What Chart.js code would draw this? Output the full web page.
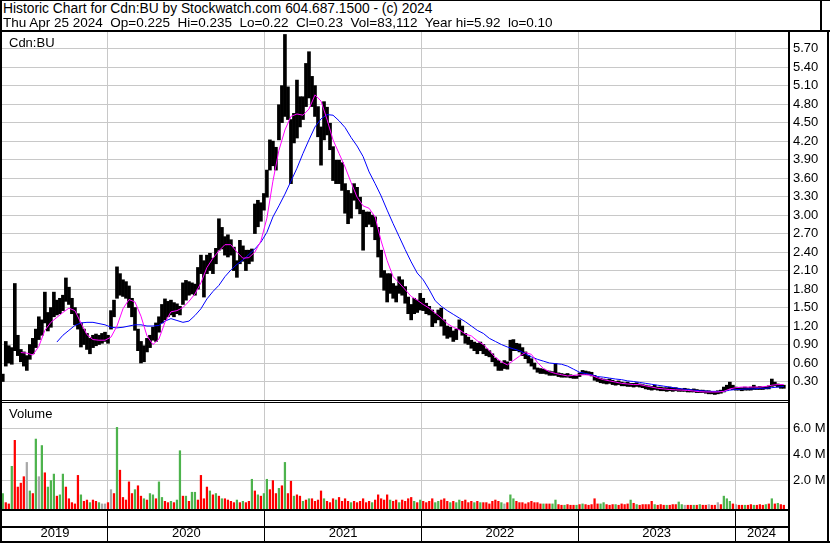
<!DOCTYPE html>
<html><head><meta charset="utf-8">
<script src="https://cdn.jsdelivr.net/npm/chart.js"></script>
<style>
html,body{margin:0;padding:0;background:#fff;}
body{width:830px;height:543px;position:relative;overflow:hidden;font-family:"Liberation Sans",Arial,sans-serif;}
.ln{position:absolute;background:#000;}
.txt{position:absolute;font-size:13px;line-height:13px;color:#000;white-space:pre;}
.h1{font-size:13.8px;line-height:14px;}
.h2{font-size:13.5px;line-height:14px;}
canvas{position:absolute;}
</style></head><body>
<canvas id="price" width="826" height="368" style="left:2px;top:32px"></canvas>
<canvas id="vol" width="826" height="140" style="left:2px;top:402px"></canvas>
<div class="txt h1" style="left:3px;top:2px">Historic Chart for Cdn:BU by Stockwatch.com 604.687.1500 - (c) 2024</div>
<div class="txt h2" style="left:3px;top:16px">Thu Apr 25 2024  Op=0.225  Hi=0.235  Lo=0.22  Cl=0.23  Vol=83,112  Year hi=5.92  lo=0.10</div>
<div class="txt" style="left:9px;top:36px">Cdn:BU</div>
<div class="txt" style="left:9px;top:407px">Volume</div>
<div class="ln" style="left:0;top:0;width:830px;height:1px"></div>
<div class="ln" style="left:0;top:0;width:2px;height:543px"></div>
<div class="ln" style="left:0;top:30px;width:830px;height:2px"></div>
<div class="ln" style="left:820px;top:0;width:2px;height:31px"></div>
<div class="ln" style="left:827px;top:30px;width:2px;height:513px"></div>
<div class="ln" style="left:788px;top:30px;width:2px;height:513px"></div>
<div class="ln" style="left:0;top:400px;width:789px;height:1px"></div>
<div class="ln" style="left:0;top:402px;width:789px;height:1px"></div>
<div class="ln" style="left:0;top:509px;width:789px;height:2px"></div>
<div class="ln" style="left:0;top:526px;width:789px;height:2px"></div>
<div class="ln" style="left:0;top:541px;width:830px;height:2px"></div>
<script>
// ---- data (weekly, first week centred on 2019-05-01) ----
const firstWeek = '2019-05-01';
const priceLow = [
0.30,0.55,0.60,0.58,0.80,0.72,0.62,0.55,0.48,0.66,
0.75,0.85,0.98,1.05,1.25,1.12,1.18,1.35,1.38,1.40,
1.45,1.60,1.55,1.40,1.22,1.15,0.86,0.90,0.82,0.75,
0.85,0.88,0.90,0.92,0.95,0.92,1.15,1.35,1.65,1.70,
1.68,1.65,1.50,1.35,1.13,0.80,0.60,0.62,0.78,0.85,
0.97,0.95,1.10,1.25,1.30,1.35,1.38,1.35,1.40,1.38,
1.55,1.62,1.70,1.72,1.70,1.80,2.05,1.67,2.05,2.10,
2.05,2.21,2.43,2.45,2.35,2.32,2.35,2.10,1.99,2.21,
2.25,2.10,2.21,2.25,2.70,2.81,2.90,3.08,3.29,3.73,
3.80,3.73,4.22,4.50,4.60,4.55,3.51,4.17,4.25,4.43,
4.55,4.76,4.90,4.76,4.60,4.27,3.81,4.22,4.30,4.06,
3.56,3.51,3.51,3.40,3.03,2.86,2.95,3.24,3.10,3.02,
2.43,2.81,2.85,2.81,2.60,2.32,1.99,1.78,1.59,1.73,
1.65,1.59,1.73,1.70,1.57,1.40,1.30,1.40,1.42,1.46,
1.45,1.40,1.38,1.19,1.25,1.30,1.20,1.05,1.00,1.02,
0.95,0.98,1.14,1.05,0.92,0.90,0.84,0.80,0.75,0.80,
0.75,0.72,0.70,0.62,0.55,0.48,0.48,0.51,0.50,0.64,
0.80,0.80,0.78,0.72,0.67,0.60,0.55,0.50,0.45,0.43,
0.43,0.42,0.40,0.40,0.40,0.38,0.37,0.37,0.37,0.36,
0.35,0.35,0.38,0.41,0.41,0.41,0.39,0.32,0.30,0.28,
0.27,0.26,0.27,0.25,0.24,0.25,0.23,0.23,0.22,0.22,
0.21,0.22,0.21,0.20,0.18,0.17,0.16,0.17,0.16,0.15,
0.15,0.14,0.15,0.14,0.15,0.14,0.14,0.14,0.13,0.13,
0.13,0.12,0.12,0.12,0.11,0.10,0.10,0.09,0.10,0.11,
0.13,0.16,0.18,0.17,0.16,0.16,0.15,0.16,0.16,0.16,
0.17,0.17,0.17,0.17,0.18,0.18,0.22,0.23,0.21,0.19,
0.19];
const priceHigh = [
0.42,0.95,0.88,0.85,1.89,1.05,0.82,0.78,0.72,0.90,
1.00,1.15,1.35,1.30,1.75,1.42,1.50,1.75,1.62,1.65,
1.70,1.98,1.83,1.65,1.50,1.40,1.25,1.15,1.08,1.00,
1.05,1.07,1.05,1.08,1.10,1.05,1.45,1.62,2.16,2.05,
1.95,1.92,1.85,1.65,1.50,1.15,0.95,0.88,1.00,1.05,
1.18,1.25,1.35,1.55,1.64,1.60,1.62,1.58,1.56,1.52,
1.90,1.94,1.92,1.90,1.88,2.15,2.35,2.26,2.35,2.38,
2.30,2.46,2.94,2.80,2.65,2.68,2.60,2.48,2.26,2.59,
2.50,2.43,2.43,2.45,3.18,3.24,3.20,3.35,3.73,4.22,
4.20,4.10,4.79,5.10,5.93,5.08,4.55,4.65,5.19,4.92,
4.92,5.46,5.65,5.25,5.10,4.76,4.43,4.84,4.75,4.49,
4.11,3.89,3.89,3.85,3.51,3.40,3.35,3.51,3.45,3.29,
3.08,3.05,3.05,3.00,2.97,2.80,2.43,2.10,2.05,2.05,
1.89,1.85,2.00,1.95,1.84,1.67,1.55,1.65,1.62,1.73,
1.65,1.57,1.52,1.46,1.40,1.46,1.49,1.30,1.20,1.18,
1.12,1.15,1.30,1.20,1.08,1.02,0.97,0.94,0.92,0.94,
0.90,0.83,0.80,0.75,0.68,0.64,0.60,0.64,0.62,0.97,
0.98,0.92,0.91,0.85,0.78,0.72,0.67,0.60,0.52,0.51,
0.50,0.48,0.47,0.46,0.59,0.44,0.43,0.42,0.43,0.41,
0.40,0.39,0.44,0.48,0.47,0.46,0.45,0.40,0.37,0.35,
0.34,0.33,0.34,0.32,0.30,0.31,0.29,0.28,0.29,0.27,
0.27,0.28,0.26,0.25,0.24,0.23,0.22,0.24,0.21,0.21,
0.20,0.20,0.21,0.19,0.20,0.19,0.18,0.19,0.18,0.17,
0.18,0.17,0.16,0.16,0.15,0.15,0.14,0.14,0.15,0.16,
0.21,0.24,0.29,0.24,0.21,0.20,0.20,0.21,0.20,0.21,
0.24,0.21,0.22,0.21,0.22,0.23,0.34,0.29,0.26,0.25,
0.24];
// weekly volume, millions of shares
const volumeM = [
1.0,0.3,0.2,3.1,5.1,1.5,1.8,2.3,3.4,1.2,
1.0,5.2,2.3,4.7,2.6,1.5,2.0,2.5,0.8,0.9,
2.5,1.5,0.6,0.3,0.2,2.4,0.9,0.4,0.5,0.3,
0.5,0.4,0.3,0.2,0.2,0.3,1.3,1.0,6.1,2.8,
0.7,0.5,1.9,1.0,1.3,1.6,0.8,0.6,0.5,1.0,
0.9,0.6,1.9,0.7,0.4,0.3,0.4,0.3,0.5,4.3,
0.8,0.8,0.4,1.1,1.1,0.5,2.4,0.6,1.5,1.2,
0.9,1.0,0.8,0.6,0.6,0.5,0.4,0.3,0.5,0.3,
0.4,0.3,0.4,2.1,1.2,0.9,0.8,1.0,2.1,1.3,
2.0,1.0,1.4,1.6,3.4,1.0,1.95,0.8,0.9,0.8,
0.4,0.5,0.6,0.6,0.4,0.5,1.2,0.6,0.4,0.3,
0.6,0.5,0.7,0.4,0.6,0.4,0.3,0.4,0.3,0.4,
0.6,0.3,0.4,0.3,0.5,0.9,0.6,0.5,0.9,0.5,
0.4,0.5,0.3,0.5,0.4,0.6,0.7,0.4,0.3,0.5,
0.4,0.3,0.4,0.6,0.3,0.4,0.5,0.6,0.4,0.3,
0.4,0.3,0.5,0.4,0.5,0.3,0.4,0.3,0.4,0.3,
0.3,0.3,0.2,0.4,0.5,0.4,0.3,0.2,0.3,0.9,
0.6,0.4,0.3,0.3,0.2,0.3,0.4,0.3,0.3,0.2,
0.2,0.2,0.2,0.2,0.5,0.15,0.1,0.1,0.15,0.1,
0.1,0.1,0.15,0.2,0.15,0.1,0.15,0.6,0.2,0.2,
0.3,0.15,0.1,0.15,0.15,0.1,0.2,0.15,0.2,0.5,
0.25,0.15,0.1,0.15,0.15,0.15,0.4,0.15,0.1,0.15,
0.1,0.1,0.1,0.15,0.15,0.35,0.15,0.1,0.1,0.1,
0.1,0.1,0.15,0.1,0.1,0.15,0.1,0.1,0.3,0.15,
0.8,0.6,0.4,0.2,0.15,0.1,0.1,0.1,0.1,0.15,
0.1,0.1,0.15,0.1,0.15,0.2,0.6,0.2,0.25,0.15,
0.1];
// 1 = up week, -1 = down week, 0 = unchanged
const volumeDir = [
1,-1,-1,1,-1,-1,-1,-1,0,1,
-1,1,0,1,-1,1,1,1,-1,1,
1,-1,-1,-1,-1,-1,1,-1,-1,1,
-1,-1,1,0,0,-1,0,-1,1,-1,
-1,-1,-1,-1,1,-1,-1,1,-1,1,
1,-1,1,1,-1,-1,1,-1,1,1,
-1,1,-1,1,1,-1,-1,-1,-1,1,
-1,1,-1,1,-1,-1,-1,-1,1,-1,
1,-1,-1,1,-1,1,-1,1,1,-1,
-1,-1,1,-1,1,-1,-1,1,-1,-1,
1,-1,1,-1,-1,-1,-1,1,-1,-1,
-1,1,-1,-1,-1,-1,1,-1,-1,-1,
-1,-1,-1,1,-1,-1,-1,-1,-1,1,
-1,-1,1,-1,-1,-1,-1,1,-1,1,
-1,-1,-1,-1,1,1,-1,-1,-1,1,
-1,1,1,-1,-1,-1,-1,1,-1,1,
-1,-1,-1,-1,-1,-1,1,0,-1,1,
1,-1,-1,-1,-1,-1,-1,-1,-1,-1,
1,-1,-1,1,1,-1,-1,1,-1,-1,
-1,1,-1,1,-1,-1,-1,-1,-1,1,
1,-1,-1,-1,1,-1,-1,-1,-1,1,
-1,1,-1,-1,-1,-1,-1,1,-1,-1,
-1,1,-1,-1,-1,1,1,0,-1,-1,
1,-1,1,-1,-1,0,-1,-1,0,-1,
1,1,1,-1,0,-1,-1,1,-1,-1,
1,-1,-1,-1,1,-1,1,-1,1,-1,
-1];
// moving averages, read every second week
const fastMaFirstWeek = 6;
const fastMa = [
0.77,0.76,0.73,0.87,1.13,1.26,1.34,1.42,1.49,1.45,
1.25,1.06,0.98,0.97,0.97,1.02,1.20,1.48,1.63,1.59,
1.36,1.04,0.90,0.99,1.26,1.43,1.45,1.50,1.60,1.72,
1.90,2.15,2.30,2.42,2.52,2.52,2.40,2.30,2.31,2.40,
2.58,2.95,3.55,4.05,4.38,4.60,4.64,4.62,4.72,4.95,
4.85,4.55,4.22,4.00,3.78,3.53,3.29,3.15,3.11,2.97,
2.58,2.26,2.00,1.90,1.79,1.68,1.62,1.55,1.49,1.41,
1.33,1.24,1.18,1.14,1.07,1.04,0.96,0.90,0.80,0.69,
0.62,0.57,0.64,0.71,0.77,0.74,0.61,0.51,0.46,0.43,
0.41,0.39,0.40,0.41,0.41,0.40,0.36,0.33,0.31,0.29,
0.27,0.26,0.25,0.25,0.23,0.21,0.19,0.18,0.17,0.165,
0.16,0.155,0.145,0.135,0.13,0.13,0.13,0.14,0.18,0.20,
0.21,0.21,0.21,0.21,0.22,0.24,0.25,0.25];
const slowMaFirstWeek = 18;
const slowMa = [
0.94,1.05,1.13,1.21,1.25,1.26,1.26,1.24,1.22,1.18,
1.17,1.18,1.20,1.22,1.22,1.20,1.20,1.21,1.28,1.32,
1.29,1.26,1.28,1.37,1.48,1.64,1.76,1.86,2.00,2.11,
2.20,2.27,2.36,2.45,2.56,2.72,2.97,3.15,3.34,3.55,
3.76,4.00,4.22,4.43,4.56,4.63,4.62,4.53,4.42,4.26,
4.12,3.95,3.70,3.51,3.31,3.08,2.86,2.65,2.44,2.24,
2.06,1.95,1.79,1.61,1.52,1.45,1.39,1.33,1.27,1.20,
1.13,1.08,1.00,0.95,0.90,0.86,0.83,0.80,0.75,0.70,
0.66,0.63,0.60,0.59,0.58,0.55,0.50,0.45,0.43,0.41,
0.38,0.37,0.355,0.34,0.33,0.31,0.30,0.285,0.27,0.255,
0.24,0.225,0.21,0.195,0.18,0.17,0.16,0.15,0.145,0.14,
0.14,0.14,0.16,0.17,0.175,0.18,0.18,0.19,0.19,0.20,
0.21,0.22];
const priceTicks = [0.3,0.6,0.9,1.2,1.5,1.8,2.1,2.4,2.7,3.0,3.3,3.6,3.9,4.2,4.5,4.8,5.1,5.4,5.7];
const volumeTicks = [2,4,6];
const years = [2019,2020,2021,2022,2023,2024];

// ---- helpers ----
const X_MIN = 2019.3238, X_MAX = 2024.3381;
const DAY = 86400000;
const t0 = Date.parse(firstWeek + 'T00:00:00Z');
function weekToYear(w){
  const t = t0 + w*7*DAY;
  const y = new Date(t).getUTCFullYear();
  const a = Date.UTC(y,0,1), b = Date.UTC(y+1,0,1);
  return y + (t-a)/(b-a);
}
const yearBounds = years.filter(y => y > X_MIN && y < X_MAX);
const yearMids = years.map(y => (Math.max(y,X_MIN) + Math.min(y+1,X_MAX))/2);
function noPad(s){ s.paddingTop = 0; s.paddingBottom = 0; s.paddingLeft = 0; s.paddingRight = 0; }

Chart.defaults.font.family = '"Liberation Sans", Arial, sans-serif';
Chart.defaults.font.size = 13;
Chart.defaults.color = '#000';
const GRID = '#c8c8c8';

const priceBars = priceHigh.map((h,i) => ({x: weekToYear(i), y: [priceLow[i], h]}));
const fastLine = fastMa.map((v,k) => ({x: weekToYear(fastMaFirstWeek + 2*k), y: v}));
const slowLine = slowMa.map((v,k) => ({x: weekToYear(slowMaFirstWeek + 2*k), y: v}));

function xGrid(){
  return {
    type:'linear', min:X_MIN, max:X_MAX, offset:false,
    grid:{color:GRID, offset:false, drawTicks:false}, border:{display:false},
    ticks:{display:false},
    afterBuildTicks: s => { s.ticks = yearBounds.map(v => ({value:v})); },
    afterFit: s => { s.height = 0; noPad(s); }
  };
}

new Chart(document.getElementById('price'), {
  type:'bar',
  data:{datasets:[
    {type:'line', data:fastLine, borderColor:'#ff00ff', borderWidth:1, pointRadius:0, tension:0, order:0},
    {type:'line', data:slowLine, borderColor:'#0000ff', borderWidth:1, pointRadius:0, tension:0, order:1},
    {type:'bar', data:priceBars, backgroundColor:'#000', barPercentage:1, categoryPercentage:1, grouped:false, order:2}
  ]},
  options:{
    responsive:false, animation:false, events:[],
    layout:{padding:0},
    plugins:{legend:{display:false}, tooltip:{enabled:false}},
    scales:{
      x: xGrid(),
      y:{position:'right', min:0, max:5.97,
         grid:{color:GRID, drawTicks:false}, border:{display:false},
         ticks:{padding:5, callback:v => v.toFixed(2)},
         afterBuildTicks: s => { s.ticks = priceTicks.map(v => ({value:v})); },
         afterFit: s => { s.width = 40; noPad(s); }}
    }
  }
});

const VOL_MIN = -0.216, VOL_MAX = 8.03;
const volColors = volumeDir.map(d => d > 0 ? '#4db34d' : (d < 0 ? '#ff0000' : '#a8a8a8'));
const volBars = volumeM.map((v,i) => ({x: weekToYear(i), y: [VOL_MIN, v]}));

const bandDividers = {
  id:'bandDividers',
  afterDraw(chart){
    const s = chart.scales.x, ctx = chart.ctx, top = chart.chartArea.bottom;
    ctx.save(); ctx.fillStyle = '#000';
    yearBounds.forEach(y => { const p = Math.floor(s.getPixelForValue(y)); ctx.fillRect(p, top, 1, chart.height - top); });
    ctx.restore();
  }
};

new Chart(document.getElementById('vol'), {
  type:'bar',
  data:{datasets:[
    {data:volBars, backgroundColor:volColors, barPercentage:0.75, categoryPercentage:1, grouped:false}
  ]},
  options:{
    responsive:false, animation:false, events:[],
    layout:{padding:0},
    plugins:{legend:{display:false}, tooltip:{enabled:false}},
    scales:{
      x: xGrid(),
      x2:{type:'linear', position:'bottom', min:X_MIN, max:X_MAX, offset:false,
          grid:{display:false, drawTicks:false}, border:{display:false},
          ticks:{padding:17, autoSkip:false, maxRotation:0, callback:v => String(Math.floor(v))},
          afterBuildTicks: s => { s.ticks = yearMids.map(v => ({value:v})); },
          afterFit: s => { s.height = 33; noPad(s); }},
      y:{position:'right', min:VOL_MIN, max:VOL_MAX,
         grid:{color:GRID, drawTicks:false}, border:{display:false},
         ticks:{padding:5, callback:v => v.toFixed(1) + ' M'},
         afterBuildTicks: s => { s.ticks = volumeTicks.map(v => ({value:v})); },
         afterFit: s => { s.width = 40; noPad(s); }}
    }
  },
  plugins:[bandDividers]
});
</script>
</body></html>
